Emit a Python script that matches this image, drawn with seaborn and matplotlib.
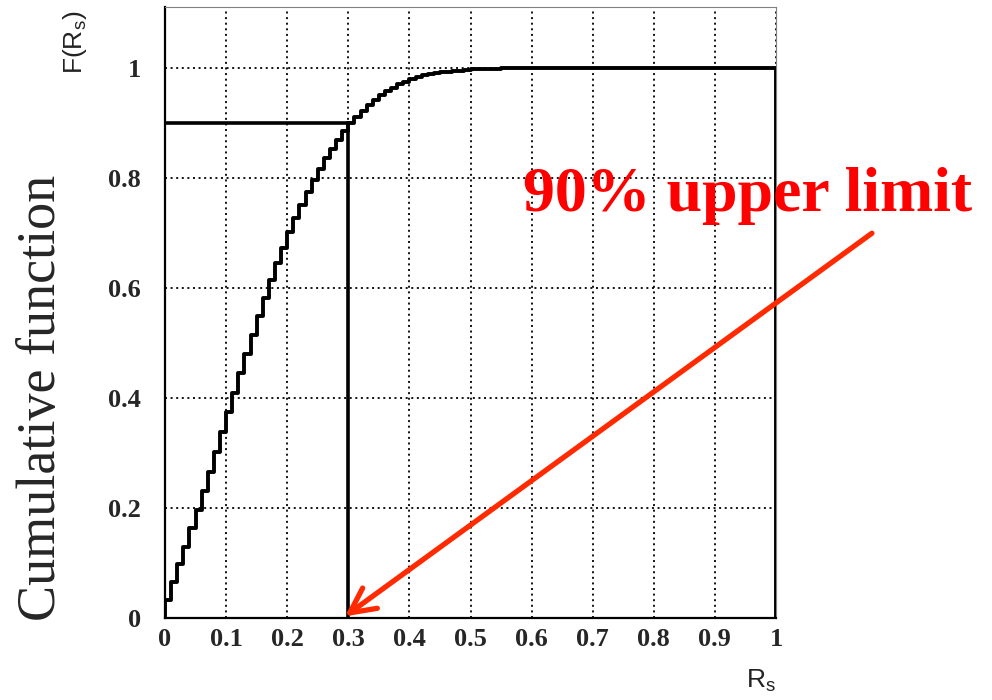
import numpy as np
import pandas as pd
import matplotlib
matplotlib.use("Agg")
import matplotlib.pyplot as plt
import seaborn as sns
from matplotlib.ticker import MultipleLocator

# ---- data ----
bin_edges_low = [i / 100 for i in range(100)]  # lower edges of the 100 bins of width 0.01
cdf_values = [
    0.032, 0.066, 0.098, 0.130, 0.163, 0.197, 0.231, 0.266, 0.302, 0.338,
    0.374, 0.410, 0.445, 0.480, 0.515, 0.550, 0.583, 0.615, 0.645, 0.674,
    0.702, 0.728, 0.752, 0.775, 0.797, 0.817, 0.836, 0.854, 0.870, 0.886,
    0.901, 0.912, 0.923, 0.934, 0.943, 0.951, 0.959, 0.965, 0.971, 0.976,
    0.980, 0.984, 0.987, 0.989, 0.991, 0.993, 0.994, 0.995, 0.996, 0.997,
    0.998, 0.998, 0.999, 0.999, 0.999, 1.000, 1.000, 1.000, 1.000, 1.000,
    1.000, 1.000, 1.000, 1.000, 1.000, 1.000, 1.000, 1.000, 1.000, 1.000,
    1.000, 1.000, 1.000, 1.000, 1.000, 1.000, 1.000, 1.000, 1.000, 1.000,
    1.000, 1.000, 1.000, 1.000, 1.000, 1.000, 1.000, 1.000, 1.000, 1.000,
    1.000, 1.000, 1.000, 1.000, 1.000, 1.000, 1.000, 1.000, 1.000, 1.000,
]
upper_limit_x = 0.3
upper_limit_level = 0.9
x_tick_values = [0, 0.1, 0.2, 0.3, 0.4, 0.5, 0.6, 0.7, 0.8, 0.9, 1.0]
x_tick_labels = ["0", "0.1", "0.2", "0.3", "0.4", "0.5", "0.6", "0.7", "0.8", "0.9", "1"]
y_tick_values = [0, 0.2, 0.4, 0.6, 0.8, 1.0]
y_tick_labels = ["0", "0.2", "0.4", "0.6", "0.8", "1"]
annotation_text = "90% upper limit"
y_title = "Cumulative function"

# ---- figure ----
sns.set_style("white")
plt.rcParams["font.family"] = ["Liberation Serif", "DejaVu Serif"]

W, H = 992, 700
fig = plt.figure(figsize=(W / 100, H / 100), dpi=100)
ax_left, ax_right, ax_bottom_px, ax_top_px = 165, 776, 618, 7.3
ax = fig.add_axes([ax_left / W, 1 - ax_bottom_px / H,
                   (ax_right - ax_left) / W, (ax_bottom_px - ax_top_px) / H])

# closed histogram outline like ROOT: starts at 0 and drops back to 0 at x=1
xs = [0.0] + bin_edges_low + [1.0, 1.0]
ys = [0.0] + cdf_values + [cdf_values[-1], 0.0]
df = pd.DataFrame({"x": xs, "y": ys})
sns.lineplot(data=df, x="x", y="y", ax=ax, drawstyle="steps-post",
             estimator=None, sort=False, color="black", lw=2.8, zorder=4)

# 90% lines
ax.plot([0, upper_limit_x], [upper_limit_level, upper_limit_level], color="black", lw=2.6, zorder=4)
ax.plot([upper_limit_x, upper_limit_x], [0, upper_limit_level], color="black", lw=2.6, zorder=4)

ax.set_xlim(0, 1)
ax.set_ylim(0, 1.111)

# grid
for xv in x_tick_values[1:]:
    ax.axvline(xv, color="black", lw=1.3, ls=(0, (1.1, 2.0)), zorder=1)
for yv in y_tick_values[1:]:
    ax.axhline(yv, color="black", lw=1.3, ls=(0, (1.1, 2.0)), zorder=1)

# ticks
ax.set_xticks(x_tick_values)
ax.set_xticklabels(x_tick_labels)
ax.set_yticks(y_tick_values)
ax.set_yticklabels(y_tick_labels)
ax.xaxis.set_minor_locator(MultipleLocator(0.02))
ax.yaxis.set_minor_locator(MultipleLocator(0.05))
ax.tick_params(axis="both", which="both", direction="in", top=False, right=False,
               color="black", width=1.2)
ax.tick_params(axis="both", which="major", length=11, labelsize=19)
ax.tick_params(axis="both", which="minor", length=5)
ax.tick_params(axis="x", which="major", pad=7)
ax.tick_params(axis="y", which="major", pad=17.5)
for lab in ax.get_xticklabels() + ax.get_yticklabels():
    lab.set_fontweight("bold")

for s in ["left", "bottom"]:
    ax.spines[s].set_color("black")
    ax.spines[s].set_linewidth(1.6)
for s in ["top", "right"]:
    ax.spines[s].set_color("#808080")
    ax.spines[s].set_linewidth(0.8)
ax.set_xlabel("")
ax.set_ylabel("")

# annotation text and arrow
ax.text(0.586, 0.74, annotation_text, color="#ff0000", fontsize=46, fontweight="bold",
        ha="left", va="baseline", clip_on=False, zorder=6)
ax.annotate("", xy=(0.2946, 0.003), xytext=(1.157, 0.700), xycoords="data",
            annotation_clip=False,
            arrowprops=dict(arrowstyle="->,head_length=0.9,head_width=0.45",
                            mutation_scale=20, lw=3.8, color="#ff2a00",
                            shrinkA=0, shrinkB=0), zorder=7)

# axis titles
fig.text(42 / W, 1 - 397.5 / H, y_title, rotation=90, fontsize=39,
         ha="center", va="center", family=["Liberation Serif"])
fig.text(75 / W, 1 - 11 / H, r"F(R$_{\mathregular{s}}$)", rotation=90, fontsize=19,
         ha="center", va="top", family=["Liberation Sans"], color="#222222")
fig.text(776 / W, 1 - 668 / H, r"R$_{\mathregular{s}}$", fontsize=19,
         ha="right", va="top", family=["Liberation Sans"], color="#222222")

fig.savefig("out.png", dpi=100)
